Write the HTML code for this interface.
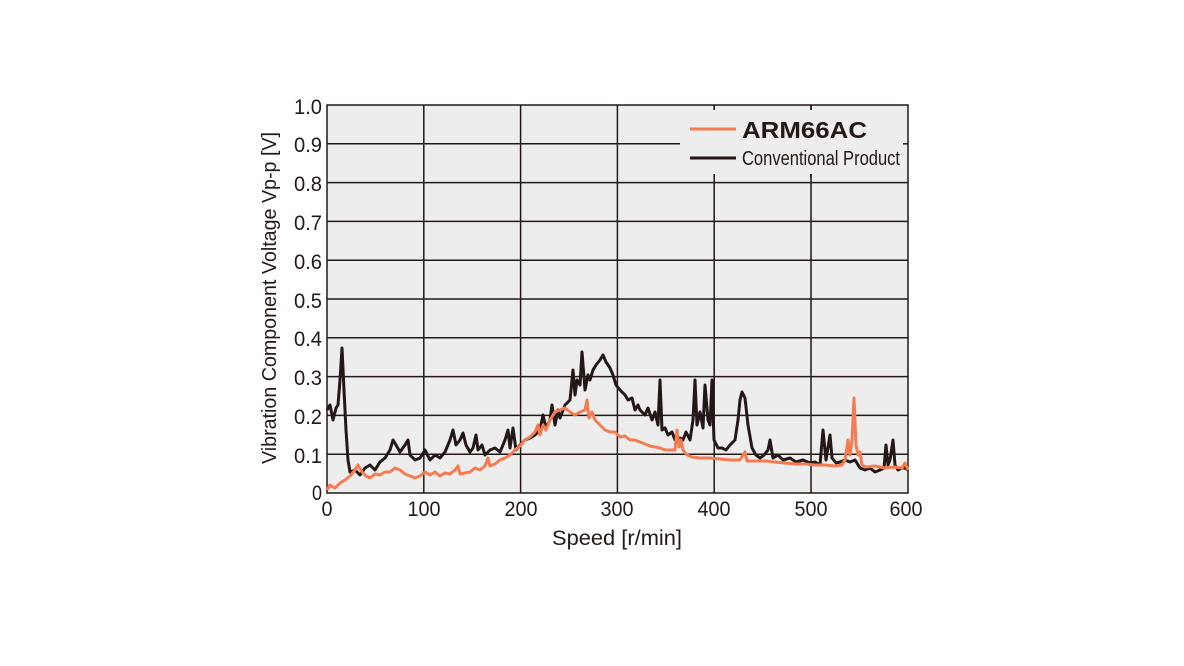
<!DOCTYPE html>
<html><head><meta charset="utf-8"><style>
html,body{margin:0;padding:0;background:#fff}
svg{display:block}
text{font-family:"Liberation Sans",sans-serif;fill:#231815}
</style></head><body>
<svg width="1184" height="666" viewBox="0 0 1184 666">
<rect x="327" y="105" width="581" height="388" fill="#ededed"/>
<g stroke="#231815" stroke-width="1.5">
<line x1="327" y1="143.8" x2="908" y2="143.8"/><line x1="327" y1="182.6" x2="908" y2="182.6"/>
<line x1="327" y1="221.4" x2="908" y2="221.4"/><line x1="327" y1="260.2" x2="908" y2="260.2"/>
<line x1="327" y1="299" x2="908" y2="299"/><line x1="327" y1="337.8" x2="908" y2="337.8"/>
<line x1="327" y1="376.6" x2="908" y2="376.6"/><line x1="327" y1="415.4" x2="908" y2="415.4"/>
<line x1="327" y1="454.2" x2="908" y2="454.2"/>
<line x1="423.8" y1="105" x2="423.8" y2="493"/><line x1="520.6" y1="105" x2="520.6" y2="493"/>
<line x1="617.4" y1="105" x2="617.4" y2="493"/><line x1="714.2" y1="105" x2="714.2" y2="493"/>
<line x1="811" y1="105" x2="811" y2="493"/>
</g>
<rect x="680" y="110" width="227" height="64" fill="#ededed"/>
<g stroke="#231815" stroke-width="1.5">
<line x1="714.2" y1="105" x2="714.2" y2="110"/><line x1="811" y1="105" x2="811" y2="110"/>
<line x1="714.2" y1="174" x2="714.2" y2="178"/><line x1="811" y1="174" x2="811" y2="178"/>
<line x1="660" y1="143.8" x2="680" y2="143.8"/><line x1="903" y1="143.8" x2="908" y2="143.8"/>
</g>
<rect x="327" y="105" width="581" height="388" fill="none" stroke="#231815" stroke-width="1.5"/>
<polyline fill="none" stroke="#231815" stroke-width="3" stroke-linejoin="round" points="327,410 330,405 333,420 336,408 338,405 340,380 342,348 344,390 346,430 348,460 350,472 355,470 360,475 365,468 370,465 375,470 380,462 385,458 390,450 393,440 396,445 400,452 405,445 408,440 410,455 415,460 420,458 425,450 430,460 435,455 440,458 445,452 450,440 453,430 456,445 460,440 463,433 466,445 470,452 473,448 476,435 478,450 482,445 485,455 490,450 495,448 500,452 505,440 508,430 510,448 513,428 516,450 520,445 525,440 530,438 535,435 540,430 543,415 546,428 550,420 552,405 555,425 558,410 560,418 565,405 570,400 573,370 575,395 577,380 580,385 582,352 585,390 588,375 590,380 593,370 596,365 600,360 603,355 606,362 610,368 613,375 616,385 620,390 625,395 628,400 632,398 635,410 638,405 640,410 645,415 648,408 652,420 655,412 658,425 660,380 662,430 665,428 668,435 672,432 675,440 680,438 683,440 686,432 690,440 693,420 695,380 697,425 700,412 703,428 705,385 708,420 710,425 712,380 714,440 718,448 722,448 726,450 730,445 735,440 738,420 740,400 742,392 745,398 748,425 752,448 756,455 760,458 764,455 768,450 770,440 773,458 778,455 783,460 790,458 796,462 803,460 810,463 815,462 820,465 823,430 826,460 830,435 832,458 836,463 840,462 845,460 850,462 855,460 860,468 865,470 870,468 875,472 880,470 884,468 886,445 888,465 890,460 893,440 895,465 898,470 902,468 905,468 908,470"/>
<polyline fill="none" stroke="#f47c50" stroke-width="3" stroke-linejoin="round" points="327,490 330,485 335,488 340,483 345,480 350,476 355,470 358,465 362,472 366,476 370,478 375,474 380,475 385,472 390,472 395,468 400,470 405,474 410,476 415,478 420,476 425,472 430,475 435,472 440,476 445,473 450,474 455,470 458,466 460,474 465,473 470,472 475,468 480,470 485,466 488,458 490,466 495,464 500,460 505,458 510,455 515,450 520,446 525,440 530,437 535,432 538,425 540,435 543,425 546,430 550,420 555,412 560,410 565,408 570,412 575,415 580,412 585,410 587,400 589,418 592,412 595,420 600,425 605,430 610,432 615,432 620,437 625,436 630,440 635,440 640,442 645,444 650,446 655,447 660,448 665,450 670,450 675,450 677,430 679,447 681,440 683,450 687,455 692,457 700,458 710,458 720,459 730,460 740,460 745,452 747,461 755,461 765,461 775,462 785,463 795,464 805,464 815,465 825,465 835,466 842,465 845,460 848,440 850,455 852,440 854,398 856,445 858,455 860,452 862,465 866,467 875,466 885,468 895,467 902,468 905,463 908,470"/>
<line x1="690" y1="129" x2="736" y2="129" stroke="#f47c50" stroke-width="3"/>
<line x1="690" y1="158" x2="736" y2="158" stroke="#231815" stroke-width="3"/>
<text x="742" y="138" font-size="23" font-weight="bold" textLength="125" lengthAdjust="spacingAndGlyphs">ARM66AC</text>
<text x="742" y="165" font-size="20" textLength="158" lengthAdjust="spacingAndGlyphs">Conventional Product</text>
<g font-size="21" text-anchor="end">
<text x="322" y="114" textLength="28" lengthAdjust="spacingAndGlyphs">1.0</text>
<text x="322" y="152" textLength="28" lengthAdjust="spacingAndGlyphs">0.9</text>
<text x="322" y="191" textLength="28" lengthAdjust="spacingAndGlyphs">0.8</text>
<text x="322" y="230" textLength="28" lengthAdjust="spacingAndGlyphs">0.7</text>
<text x="322" y="269" textLength="28" lengthAdjust="spacingAndGlyphs">0.6</text>
<text x="322" y="308" textLength="28" lengthAdjust="spacingAndGlyphs">0.5</text>
<text x="322" y="346" textLength="28" lengthAdjust="spacingAndGlyphs">0.4</text>
<text x="322" y="385" textLength="28" lengthAdjust="spacingAndGlyphs">0.3</text>
<text x="322" y="424" textLength="28" lengthAdjust="spacingAndGlyphs">0.2</text>
<text x="322" y="463" textLength="28" lengthAdjust="spacingAndGlyphs">0.1</text>
<text x="322" y="500" textLength="10" lengthAdjust="spacingAndGlyphs">0</text>
</g>
<g font-size="21" text-anchor="middle">
<text x="327" y="516" textLength="11" lengthAdjust="spacingAndGlyphs">0</text>
<text x="424" y="516" textLength="33" lengthAdjust="spacingAndGlyphs">100</text>
<text x="521" y="516" textLength="33" lengthAdjust="spacingAndGlyphs">200</text>
<text x="617" y="516" textLength="33" lengthAdjust="spacingAndGlyphs">300</text>
<text x="714" y="516" textLength="33" lengthAdjust="spacingAndGlyphs">400</text>
<text x="811" y="516" textLength="33" lengthAdjust="spacingAndGlyphs">500</text>
<text x="906" y="516" textLength="33" lengthAdjust="spacingAndGlyphs">600</text>
<text x="617" y="545" textLength="130" lengthAdjust="spacingAndGlyphs">Speed [r/min]</text>
<text transform="translate(276,298) rotate(-90)" font-size="20" textLength="332" lengthAdjust="spacingAndGlyphs">Vibration Component Voltage Vp-p [V]</text>
</g>
</svg>
</body></html>
